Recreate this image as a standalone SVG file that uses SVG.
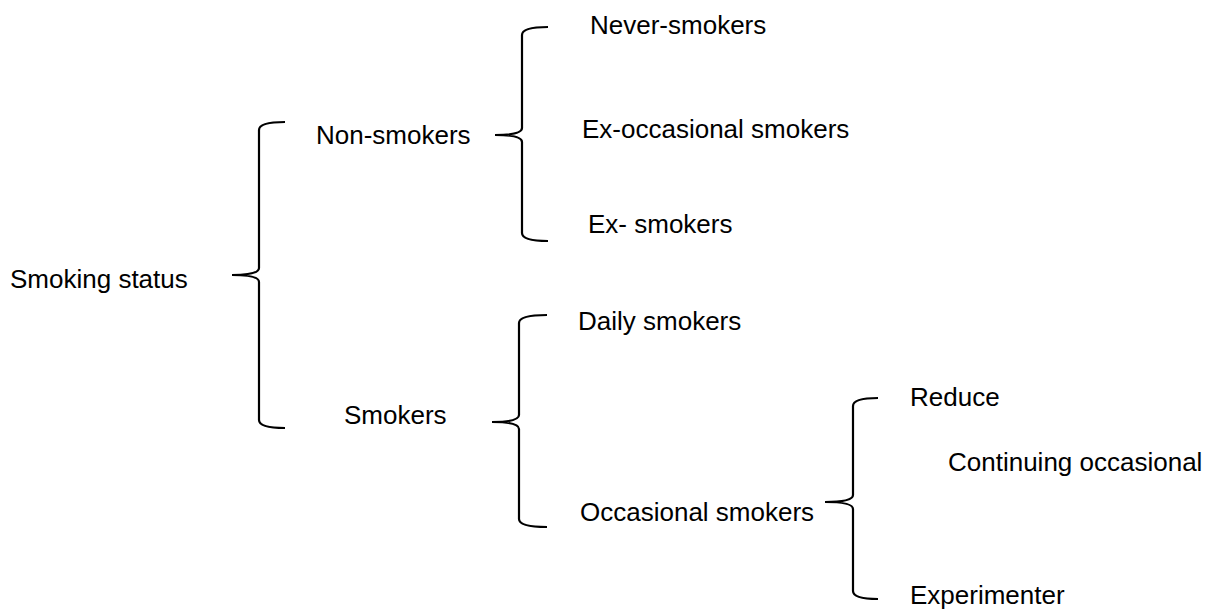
<svg xmlns="http://www.w3.org/2000/svg" width="1219" height="612" viewBox="0 0 1219 612">
<style>
text{font-family:"Liberation Sans",Arial,sans-serif;font-size:26px;fill:#000}
.br{fill:none;stroke:#000;stroke-width:2.2;stroke-linecap:butt}
</style>
<rect width="1219" height="612" fill="#fff"/>
<g id="connectors">
<path class="br" d="M285 122 Q259 122 259 130 L259 268 Q259 275 232 275 Q259 275 259 282 L259 420 Q259 428 285 428"/>
<path class="br" d="M548 27 Q522 27 522 35 L522 128 Q522 135 495 135 Q522 135 522 142 L522 233 Q522 241 548 241"/>
<path class="br" d="M547 315 Q519 315 519 323 L519 415 Q519 422 492 422 Q519 422 519 429 L519 519 Q519 527 547 527"/>
<path class="br" d="M878 398 Q853 398 853 406 L853 495 Q853 502 825 502 Q853 502 853 509 L853 591 Q853 599 878 599"/>
</g>
<g id="smoking-status"><text x="10" y="288">Smoking status</text></g>
<g id="non-smokers"><text x="316" y="144">Non-smokers</text></g>
<g id="never-smokers"><text x="590" y="34">Never-smokers</text></g>
<g id="ex-occasional-smokers"><text x="582" y="138">Ex-occasional smokers</text></g>
<g id="ex-smokers"><text x="588" y="233">Ex- smokers</text></g>
<g id="smokers"><text x="344" y="424">Smokers</text></g>
<g id="daily-smokers"><text x="578" y="330">Daily smokers</text></g>
<g id="occasional-smokers"><text x="580" y="521">Occasional smokers</text></g>
<g id="reduce"><text x="910" y="406">Reduce</text></g>
<g id="continuing-occasional"><text x="948" y="471">Continuing occasional</text></g>
<g id="experimenter"><text x="910" y="604">Experimenter</text></g>
</svg>
